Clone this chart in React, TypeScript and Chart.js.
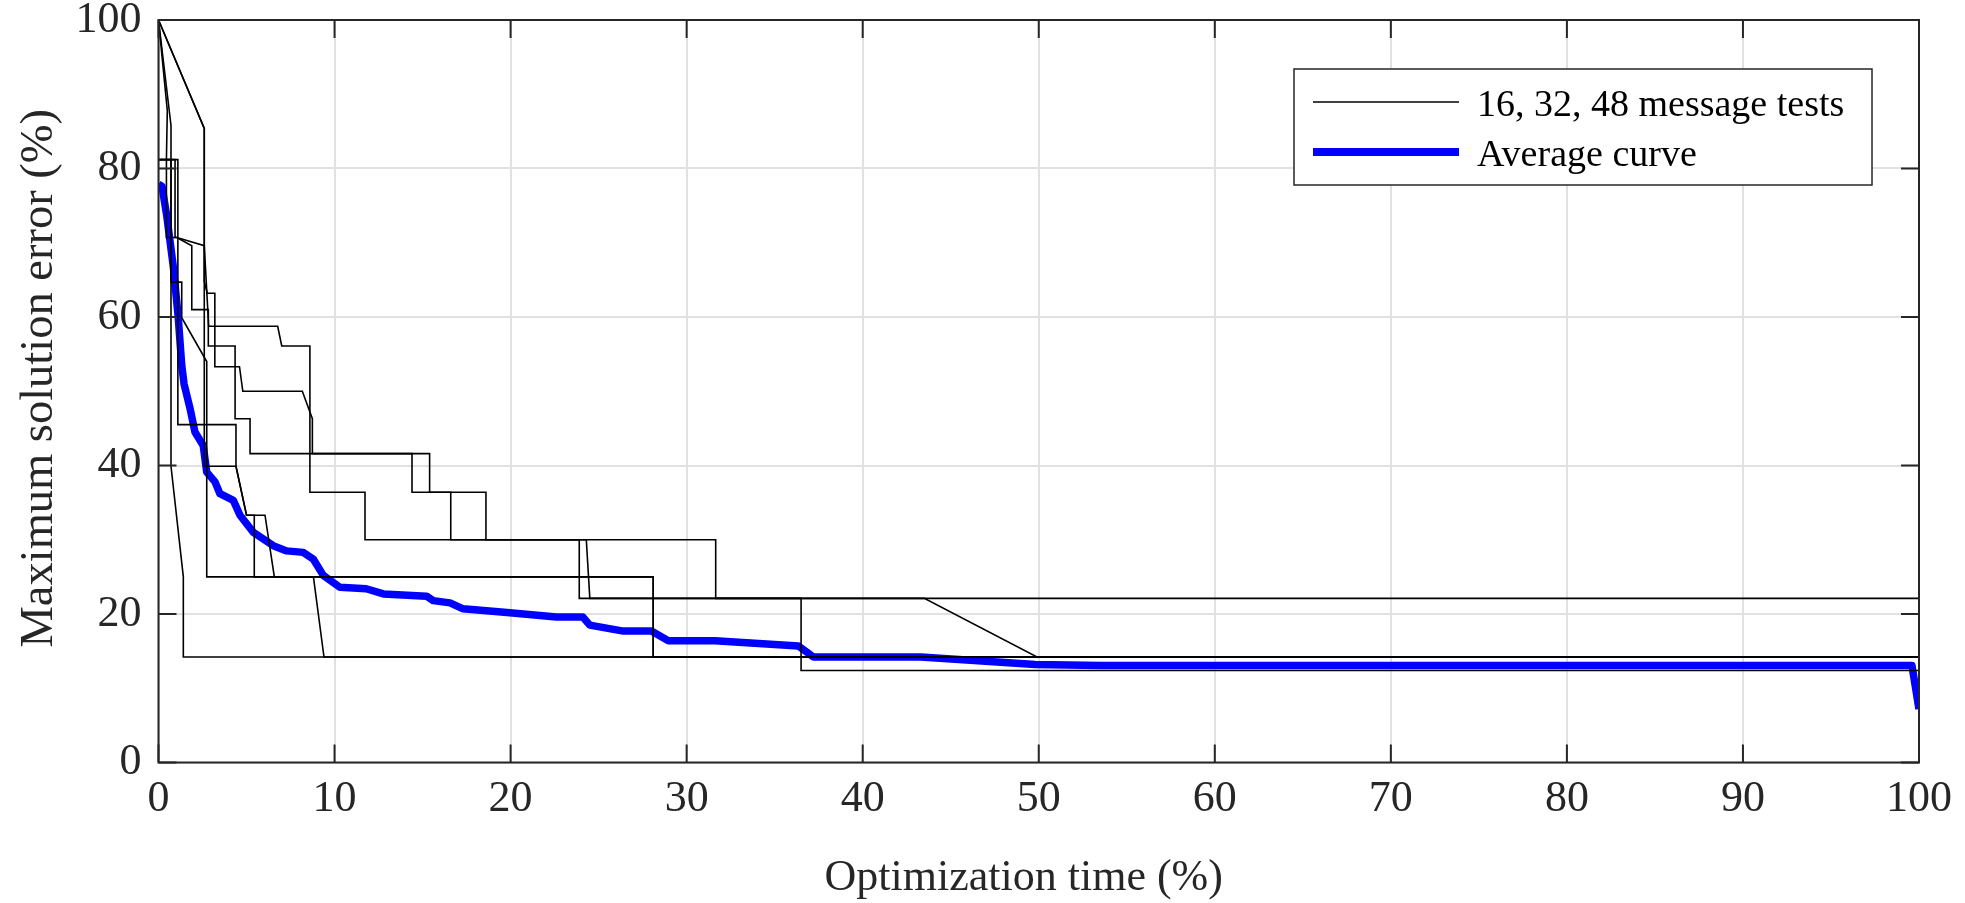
import React, { useEffect, useRef } from "react";
import { Chart, registerables } from "chart.js";

Chart.register(...registerables);

// ---- axis ticks & labels ----
const xTicks = [0, 10, 20, 30, 40, 50, 60, 70, 80, 90, 100];
const yTicks = [0, 20, 40, 60, 80, 100];
const xTitle = "Optimization time (%)";
const yTitle = "Maximum solution error (%)";
const testLabel = "16, 32, 48 message tests";
const avgLabel = "Average curve";

// ---- individual test curves [time %, error %] ----
const test1: [number, number][] = [
  [0, 100], [2.6, 85.4], [2.6, 64.8], [2.77, 63.2], [3.2, 63.2], [3.2, 53.3],
  [4.6, 53.3], [4.79, 50], [8.17, 50], [8.74, 46.3], [8.74, 41.6], [14.4, 41.6],
  [14.4, 36.4], [16.6, 36.4], [16.6, 30], [23.9, 30], [23.9, 22.1], [100, 22.1],
];
const test2: [number, number][] = [
  [0, 100], [0.71, 85.8], [0.71, 39.9], [1.41, 25], [1.41, 14.2], [100, 14.2],
];
const test3: [number, number][] = [
  [0, 100], [0.5, 87.8], [0.45, 81.2], [0.45, 70.7], [1.04, 70.7], [1.89, 69.6],
  [1.89, 61.0], [2.83, 61.0], [2.83, 56.1], [4.35, 56.1], [4.35, 46.3], [5.2, 46.3],
  [5.2, 41.6], [15.4, 41.6], [15.4, 36.4], [18.6, 36.4], [18.6, 30], [24.3, 30],
  [24.5, 22.1], [43.5, 22.1], [49.9, 14.2], [100, 14.2],
];
const test4: [number, number][] = [
  [0, 81.2], [0.94, 81.2], [0.94, 70.7], [1.04, 70.7], [2.6, 69.6], [2.85, 58.75],
  [6.77, 58.75], [7.0, 56.1], [8.6, 56.1], [8.6, 36.4], [11.73, 36.4], [11.73, 30],
  [31.65, 30], [31.65, 22.1], [36.5, 22.1], [36.5, 12.4], [100, 12.4],
];
const test5: [number, number][] = [
  [0, 81.2], [0.71, 81.2], [0.71, 64.7], [1.32, 64.7], [1.32, 59.9], [2.74, 54.0],
  [2.74, 25], [8.8, 25], [9.4, 14.2], [100, 14.2],
];
const test6: [number, number][] = [
  [0, 81.2], [1.1, 81.2], [1.1, 45.5], [4.4, 45.5], [4.4, 39.9], [5.0, 33.3],
  [5.44, 33.3], [5.44, 25], [28.1, 25], [28.1, 14.2], [100, 14.2],
];
const test7: [number, number][] = [
  [0, 100], [2.6, 85.4], [2.6, 39.9], [4.4, 39.9], [5.0, 33.3], [6.05, 33.3],
  [6.58, 25], [28.1, 25], [28.1, 14.2], [100, 14.2],
];

// ---- average curve ----
const averageCurve: [number, number][] = [
  [0, 77.9], [0.2, 77.6], [0.47, 73.6], [0.84, 66.8], [1.12, 60], [1.32, 53.5],
  [1.45, 51], [1.79, 47.7], [2.07, 44.5], [2.54, 42.7], [2.74, 39.1], [3.21, 37.8],
  [3.49, 36.2], [4.25, 35.3], [4.63, 33.3], [5.39, 31.0], [6.52, 29.2], [7.28, 28.5],
  [8.22, 28.3], [8.79, 27.4], [9.36, 25.2], [10.3, 23.6], [11.8, 23.4], [12.77, 22.7],
  [15.23, 22.4], [15.6, 21.8], [16.56, 21.5], [17.3, 20.7], [19.8, 20.2], [22.6, 19.6],
  [24.1, 19.6], [24.5, 18.5], [26.4, 17.7], [28.0, 17.7], [28.96, 16.4], [31.6, 16.4],
  [36.35, 15.7], [37.2, 14.2], [43.3, 14.2], [49.8, 13.2], [53.5, 13.05], [99.6, 13.05],
  [100, 7.2],
];

const testCurves = [test1, test2, test3, test4, test5, test6, test7];

const FONT = "'Liberation Serif', 'Times New Roman', serif";
const AXIS_COLOR = "#262626";
const BLUE = "#0000ff";

const toPts = (arr: [number, number][]) => arr.map(([x, y]) => ({ x, y }));

const framePlugin = {
  id: "matlabFrame",
  afterDatasetsDraw(chart: any) {
    const { ctx, chartArea } = chart;
    const { left, right, top, bottom } = chartArea;
    const xs = chart.scales.x;
    const ys = chart.scales.y;
    const TL = 18;
    ctx.save();
    ctx.strokeStyle = AXIS_COLOR;
    ctx.lineWidth = 2;
    ctx.strokeRect(left, top, right - left, bottom - top);
    ctx.beginPath();
    for (const v of xTicks) {
      const px = xs.getPixelForValue(v);
      ctx.moveTo(px, bottom);
      ctx.lineTo(px, bottom - TL);
      ctx.moveTo(px, top);
      ctx.lineTo(px, top + TL);
    }
    for (const v of yTicks) {
      const py = ys.getPixelForValue(v);
      ctx.moveTo(left, py);
      ctx.lineTo(left + TL, py);
      ctx.moveTo(right, py);
      ctx.lineTo(right - TL, py);
    }
    ctx.stroke();

    // legend box
    const lw = 578;
    const lh = 116;
    const lx = right - 47 - lw;
    const ly = top + 49;
    ctx.fillStyle = "#ffffff";
    ctx.fillRect(lx, ly, lw, lh);
    ctx.lineWidth = 1.5;
    ctx.strokeStyle = AXIS_COLOR;
    ctx.strokeRect(lx, ly, lw, lh);

    const sx0 = lx + 19;
    const sx1 = lx + 165;
    const row1 = ly + 33;
    const row2 = ly + 83;
    ctx.beginPath();
    ctx.strokeStyle = "#000000";
    ctx.lineWidth = 1.6;
    ctx.moveTo(sx0, row1);
    ctx.lineTo(sx1, row1);
    ctx.stroke();
    ctx.beginPath();
    ctx.strokeStyle = BLUE;
    ctx.lineWidth = 8;
    ctx.moveTo(sx0, row2);
    ctx.lineTo(sx1, row2);
    ctx.stroke();

    ctx.fillStyle = "#000000";
    ctx.font = `38px ${FONT}`;
    ctx.textAlign = "left";
    ctx.textBaseline = "alphabetic";
    ctx.fillText(testLabel, lx + 183, row1 + 14);
    ctx.fillText(avgLabel, lx + 183, row2 + 14);

    // axis titles
    ctx.fillStyle = AXIS_COLOR;
    ctx.textAlign = "center";
    ctx.textBaseline = "middle";
    ctx.font = `44px ${FONT}`;
    ctx.fillText(xTitle, (left + right) / 2 - 15, bottom + 116);
    ctx.save();
    ctx.translate(40, (top + bottom) / 2 - 13);
    ctx.rotate(-Math.PI / 2);
    ctx.font = `46.5px ${FONT}`;
    ctx.fillText(yTitle, 0, 0);
    ctx.restore();
    ctx.restore();
  },
};

export default function App() {
  const canvasRef = useRef<HTMLCanvasElement | null>(null);

  useEffect(() => {
    document.body.style.margin = "0";
    const canvas = canvasRef.current;
    if (!canvas) return;

    const datasets: any[] = testCurves.map((c, i) => ({
      label: i === 0 ? testLabel : `${testLabel} ${i + 1}`,
      data: toPts(c),
      borderColor: "#000000",
      borderWidth: 1.6,
      pointRadius: 0,
      tension: 0,
      fill: false,
    }));
    datasets.push({
      label: avgLabel,
      data: toPts(averageCurve),
      borderColor: BLUE,
      borderWidth: 7.5,
      borderJoinStyle: "round",
      pointRadius: 0,
      tension: 0,
      fill: false,
    });

    const chart = new Chart(canvas, {
      type: "line",
      data: { datasets },
      plugins: [framePlugin],
      options: {
        animation: false,
        responsive: true,
        maintainAspectRatio: false,
        layout: { padding: { left: 0, right: 46, top: 20, bottom: 0 } },
        plugins: {
          legend: { display: false },
          title: { display: false },
          tooltip: { enabled: false },
        },
        scales: {
          x: {
            type: "linear",
            min: 0,
            max: 100,
            afterFit: (s: any) => {
              s.height = 140.5;
              s.paddingLeft = 0;
              s.paddingRight = 0;
              s.paddingTop = 0;
              s.paddingBottom = 0;
            },
            afterBuildTicks: (s: any) => {
              s.ticks = xTicks.map((v) => ({ value: v }));
            },
            ticks: {
              padding: 11,
              color: AXIS_COLOR,
              font: { family: FONT, size: 44 },
              maxRotation: 0,
            },
            grid: { color: "#e1e1e1", lineWidth: 2, drawTicks: false },
            border: { display: false },
          },
          y: {
            type: "linear",
            min: 0,
            max: 100,
            afterFit: (s: any) => {
              s.width = 158.5;
              s.paddingLeft = 0;
              s.paddingRight = 0;
              s.paddingTop = 0;
              s.paddingBottom = 0;
            },
            afterBuildTicks: (s: any) => {
              s.ticks = yTicks.map((v) => ({ value: v }));
            },
            ticks: {
              padding: 17,
              color: AXIS_COLOR,
              font: { family: FONT, size: 44 },
            },
            grid: { color: "#e1e1e1", lineWidth: 2, drawTicks: false },
            border: { display: false },
          },
        },
      },
    });
    return () => chart.destroy();
  }, []);

  return (
    <div style={{ width: 1965, height: 903, position: "relative" }}>
      <canvas ref={canvasRef} />
    </div>
  );
}
